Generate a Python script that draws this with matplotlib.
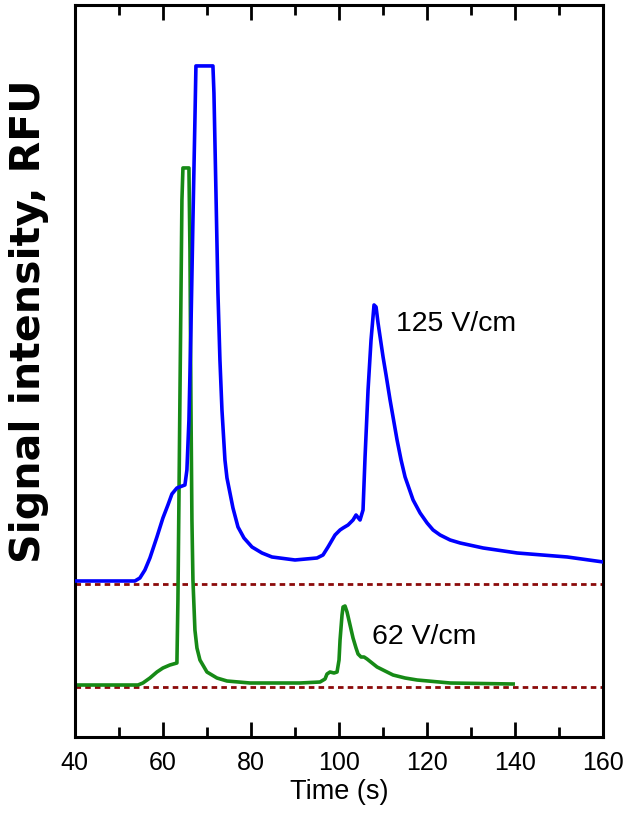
import matplotlib.pyplot as plt
from matplotlib.ticker import MultipleLocator

plt.rcParams['font.family'] = ['Liberation Sans', 'DejaVu Sans']

# electropherogram at 125 V/cm (arbitrary RFU)
t_125 = [40, 53.64, 54.77, 55.91, 57.05, 58.64, 60.0, 61.14, 62.05, 63.18, 65.0,
         65.45, 65.91, 66.36, 66.82, 67.27, 67.5, 71.36, 71.59, 72.05, 72.5, 72.95,
         73.41, 74.09, 74.55, 75.23, 75.91, 77.05, 78.41, 80.23, 82.5, 84.77, 90.0,
         95.0, 96.36, 97.5, 99.09, 100.23, 100.91, 102.05, 103.18, 103.86, 104.77,
         105.45, 105.91, 106.59, 107.27, 107.95, 108.41, 108.86, 110.0, 110.68,
         111.59, 113.18, 114.09, 115.0, 116.82, 118.41, 120.0, 121.36, 122.95,
         125.23, 127.5, 132.73, 140.45, 151.82, 160.0]
s_125 = [156, 156, 159, 167, 179, 200, 219, 232, 243, 249, 252,
         267, 317, 407, 517, 617, 671, 671, 644, 544, 444, 377,
         327, 277, 259, 244, 229, 210, 199, 190, 184, 180, 177,
         179, 182, 190, 202, 207, 209, 212, 217, 222, 217,
         227, 280, 347, 397, 432, 430, 414, 380, 362,
         337, 297, 277, 260, 237, 224, 214, 207, 202,
         197, 194, 189, 184, 180, 175]

# electropherogram at 62 V/cm
t_62 = [40, 54.32, 55.45, 57.05, 58.64, 60.0, 61.59, 63.18, 63.41, 63.64, 63.86,
        64.09, 64.32, 64.55, 65.91, 66.14, 66.36, 66.59, 66.82, 67.27, 67.73,
        68.41, 70.0, 72.27, 74.55, 79.77, 91.14, 95.68, 96.82, 97.27, 97.95,
        98.86, 99.55, 100.0, 100.23, 100.68, 100.91, 101.36, 101.82, 102.5,
        103.18, 103.86, 104.32, 105.0, 105.68, 106.36, 107.5, 108.64, 110.45,
        112.27, 115.0, 117.73, 125.23, 139.55]
s_62 = [52, 52, 54, 59, 65, 69, 72, 74, 137, 237, 337,
        437, 537, 569, 569, 487, 337, 217, 157, 107, 89,
        77, 65, 59, 56, 54, 54, 55, 58, 63, 65,
        64, 65, 77, 97, 122, 130, 131, 125, 112,
        99, 89, 83, 80, 80, 78, 74, 70, 66,
        62, 59, 57, 54, 53]

baselines = [153, 50]
labels = ['125 V/cm', '62 V/cm']
label_pos = [(126.6, 413), (119.3, 100)]

fig = plt.figure(figsize=(6.29, 8.22), dpi=100)
ax = fig.add_axes([0.119, 0.1034, 0.84, 0.8906])

# dashed reference baselines
for b in baselines:
    ax.axhline(b, color='#8b0a0a', linestyle=(0, (2, 1.5)), linewidth=2.0, zorder=1)

ax.plot(t_125, s_125, color='#0000ff', linewidth=2.6, zorder=3)
ax.plot(t_62, s_62, color='#168a16', linewidth=2.6, zorder=2)

for lab, (x, y) in zip(labels, label_pos):
    ax.text(x, y, lab, fontsize=20.5, ha='center', va='center')

ax.set_xlim(40, 160)
ax.set_ylim(0, 732)
ax.xaxis.set_major_locator(MultipleLocator(20))
ax.xaxis.set_minor_locator(MultipleLocator(10))
ax.tick_params(axis='x', which='both', direction='in', top=True, width=2, labelsize=18, pad=10)
ax.tick_params(axis='x', which='major', length=11)
ax.tick_params(axis='x', which='minor', length=7)
ax.set_yticks([])
for sp in ax.spines.values():
    sp.set_linewidth(2.2)

ax.set_xlabel('Time (s)', fontsize=19.5, labelpad=3)
fig.text(29 / 629, 1 - 321 / 822, 'Signal intensity, RFU', rotation=90,
         ha='center', va='center', fontsize=29.5, fontweight='bold', family='DejaVu Sans')

fig.savefig('out.png', dpi=100)
